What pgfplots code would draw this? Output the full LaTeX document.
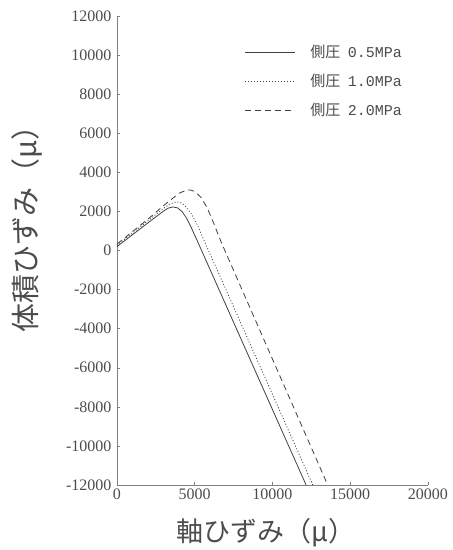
\documentclass[border=0pt]{standalone}
\usepackage{pgfplots}
\pgfplotsset{compat=1.18}
\usepackage{fontspec}
\setmainfont{Liberation Serif}
\setmonofont{Liberation Mono}
\newfontfamily\cjk{Noto Sans CJK JP}
\definecolor{ink}{gray}{0.30}
\definecolor{axisgray}{gray}{0.50}

\begin{document}
\begin{tikzpicture}
\begin{axis}[
    scale only axis,
    width=311pt, height=469pt,
    xmin=0, xmax=20000,
    ymin=-12000, ymax=12000,
    xtick={0,5000,10000,15000,20000},
    ytick={-12000,-10000,...,12000},
    axis lines=left,
    axis line style={-, axisgray, line width=0.6pt},
    tick style={axisgray, line width=0.5pt},
    tick align=inside,
    major tick length=3pt,
    scaled ticks=false,
    /pgf/number format/1000 sep={},
    /pgf/number format/assume math mode=true,
    ticklabel style={font=\fontsize{16}{18}\selectfont, text=ink},
    yticklabel style={xshift=-2pt},
    xlabel={\cjk 軸ひずみ（μ）},
    ylabel={\cjk 体積ひずみ（μ）},
    xlabel style={at={(axis description cs:0.48,-0.102)}, anchor=center,
        font=\fontsize{27}{29}\selectfont, text=ink},
    ylabel style={at={(axis description cs:-0.29,0.56)}, anchor=center,
        rotate=0, font=\fontsize{29}{31}\selectfont, text=ink},
    legend style={at={(axis description cs:0.40,0.947)}, anchor=north west,
        draw=none, fill=none, row sep=11pt,
        font=\fontsize{15}{17}\selectfont, text=ink,
        /tikz/every odd column/.append style={column sep=13pt}},
    legend cell align=left,
    legend image code/.code={\draw[#1] (0pt,0pt) -- (50pt,0pt);},
]

% 側圧 0.5MPa
\addplot[black!75, line width=0.8pt] coordinates {
  (0,200)(1000,810)(2000,1420)(3000,2020)(3300,2170)(3600,2230)(3900,2180)
  (4200,1980)(4500,1620)(4800,1130)(5210,410)(12160,-12000)
};
\addlegendentry{{\cjk 側圧}\enspace\texttt{0.5MPa}}

% 側圧 1.0MPa
\addplot[black!75, line width=0.8pt, dash pattern=on 1pt off 2pt] coordinates {
  (0,270)(1000,900)(2000,1530)(3000,2160)(3400,2380)(3800,2490)(4100,2450)
  (4400,2260)(4800,1860)(5200,1250)(5640,440)(12590,-12000)
};
\addlegendentry{{\cjk 側圧}\enspace\texttt{1.0MPa}}

% 側圧 2.0MPa
\addplot[black!75, line width=0.8pt, dash pattern=on 6pt off 4pt] coordinates {
  (0,330)(1000,970)(2000,1610)(3000,2300)(3500,2620)(4000,2930)(4400,3070)
  (4700,3100)(5000,3020)(5400,2720)(5800,2180)(6200,1430)(6710,410)(13550,-12000)
};
\addlegendentry{{\cjk 側圧}\enspace\texttt{2.0MPa}}

\end{axis}
\pgfresetboundingbox
\path[use as bounding box] (-117pt,-65pt) rectangle (336pt,485pt);
\end{tikzpicture}
\end{document}
